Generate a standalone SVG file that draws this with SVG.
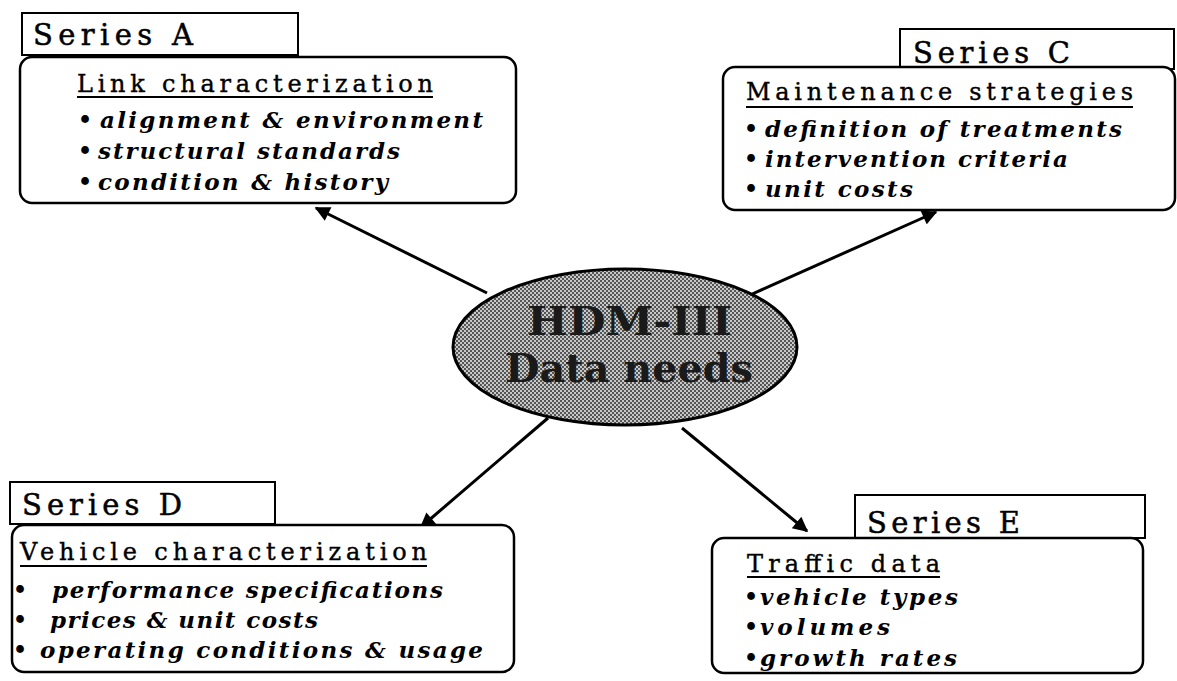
<svg xmlns="http://www.w3.org/2000/svg" width="1177" height="681" viewBox="0 0 1177 681">
<style>
  .lbl { fill:#fff; stroke:#000; stroke-width:2; }
  .box { fill:#fff; stroke:#000; stroke-width:2.5; }
  .series { font-family:"DejaVu Serif","Liberation Serif",serif; font-size:29px; fill:#000; stroke:#000; stroke-width:0.5; }
  .head { font-family:"DejaVu Serif","Liberation Serif",serif; font-size:24px; fill:#000; stroke:#000; stroke-width:0.4; }
  .item { font-family:"DejaVu Serif","Liberation Serif",serif; font-size:23px; font-style:italic; font-weight:bold; fill:#000; }
  .bul { font-family:"DejaVu Serif","Liberation Serif",serif; font-size:22px; font-weight:bold; fill:#000; }
  .ul { stroke:#000; stroke-width:1.8; }
  .conn { stroke:#000; stroke-width:3; fill:none; marker-end:url(#ah); }
  .center { font-family:"DejaVu Serif","Liberation Serif",serif; font-size:39px; font-weight:bold; fill:#1a1a1a; }
</style>
<defs>
  <marker id="ah" viewBox="0 0 10 10" refX="9" refY="5" markerWidth="5.5" markerHeight="5" orient="auto" markerUnits="strokeWidth">
    <path d="M0,0 L10,5 L0,10 z" fill="#000"/>
  </marker>
  <pattern id="ht" patternUnits="userSpaceOnUse" width="4" height="4">
    <rect width="4" height="4" fill="#c8c8c8"/>
    <rect x="0" y="0" width="2" height="2" fill="#555"/>
    <rect x="2" y="2" width="2" height="2" fill="#555"/>
  </pattern>
</defs>
<rect width="1177" height="681" fill="#fff"/>

<g id="connectors">
  <line class="conn" x1="487" y1="293" x2="316" y2="208"/>
  <line class="conn" x1="750" y1="295" x2="936" y2="212"/>
  <line class="conn" x1="548" y1="418" x2="421" y2="527"/>
  <line class="conn" x1="682" y1="428" x2="807" y2="531"/>
</g>

<g id="center">
  <ellipse cx="625" cy="347" rx="172" ry="78" fill="url(#ht)" stroke="#000" stroke-width="3"/>
  <text class="center" x="527" y="335" textLength="205" lengthAdjust="spacingAndGlyphs">HDM-III</text>
  <text class="center" x="505" y="382" textLength="248" lengthAdjust="spacingAndGlyphs">Data needs</text>
</g>

<g id="seriesA">
  <rect class="lbl" x="22" y="13" width="276" height="42"/>
  <text class="series" x="33" y="45" textLength="160" lengthAdjust="spacing">Series A</text>
  <rect class="box" x="20" y="57" width="496" height="146" rx="12"/>
  <text class="head" x="77" y="92" textLength="356" lengthAdjust="spacing">Link characterization</text>
  <line class="ul" x1="77" y1="97" x2="433" y2="97"/>
  <text class="bul" x="78" y="127">•</text>
  <text class="item" x="100" y="128" textLength="383" lengthAdjust="spacing">alignment &amp; environment</text>
  <text class="bul" x="78" y="158">•</text>
  <text class="item" x="98" y="159" textLength="302" lengthAdjust="spacing">structural standards</text>
  <text class="bul" x="78" y="189">•</text>
  <text class="item" x="98" y="190" textLength="290" lengthAdjust="spacing">condition &amp; history</text>
</g>

<g id="seriesC">
  <rect class="lbl" x="900" y="29" width="274" height="40"/>
  <text class="series" x="913" y="63" textLength="157" lengthAdjust="spacing">Series C</text>
  <rect class="box" x="723" y="67" width="452" height="143" rx="12"/>
  <text class="head" x="746" y="100" textLength="387" lengthAdjust="spacing">Maintenance strategies</text>
  <line class="ul" x1="746" y1="107" x2="1133" y2="107"/>
  <text class="bul" x="744" y="136">•</text>
  <text class="item" x="765" y="137" textLength="357" lengthAdjust="spacing">definition of treatments</text>
  <text class="bul" x="744" y="166">•</text>
  <text class="item" x="765" y="167" textLength="303" lengthAdjust="spacing">intervention criteria</text>
  <text class="bul" x="744" y="196">•</text>
  <text class="item" x="765" y="197" textLength="148" lengthAdjust="spacing">unit costs</text>
</g>

<g id="seriesD">
  <rect class="lbl" x="10" y="482" width="265" height="42"/>
  <text class="series" x="22" y="515" textLength="160" lengthAdjust="spacing">Series D</text>
  <rect class="box" x="12" y="525" width="502" height="147" rx="12"/>
  <text class="head" x="20" y="560" textLength="407" lengthAdjust="spacing">Vehicle characterization</text>
  <line class="ul" x1="20" y1="566" x2="427" y2="566"/>
  <text class="bul" x="13" y="597">•</text>
  <text class="item" x="52" y="598" textLength="391" lengthAdjust="spacing">performance specifications</text>
  <text class="bul" x="13" y="627">•</text>
  <text class="item" x="50" y="628" textLength="268" lengthAdjust="spacing">prices &amp; unit costs</text>
  <text class="bul" x="13" y="657">•</text>
  <text class="item" x="40" y="658" textLength="443" lengthAdjust="spacing">operating conditions &amp; usage</text>
</g>

<g id="seriesE">
  <rect class="lbl" x="855" y="495" width="290" height="43"/>
  <text class="series" x="867" y="533" textLength="153" lengthAdjust="spacing">Series E</text>
  <rect class="box" x="712" y="538" width="431" height="135" rx="12"/>
  <text class="head" x="747" y="572" textLength="193" lengthAdjust="spacing">Traffic data</text>
  <line class="ul" x1="747" y1="577" x2="940" y2="577"/>
  <text class="bul" x="744" y="604">•</text>
  <text class="item" x="760" y="605" textLength="198" lengthAdjust="spacing">vehicle types</text>
  <text class="bul" x="744" y="634">•</text>
  <text class="item" x="760" y="635" textLength="130" lengthAdjust="spacing">volumes</text>
  <text class="bul" x="744" y="665">•</text>
  <text class="item" x="760" y="666" textLength="197" lengthAdjust="spacing">growth rates</text>
</g>
</svg>
